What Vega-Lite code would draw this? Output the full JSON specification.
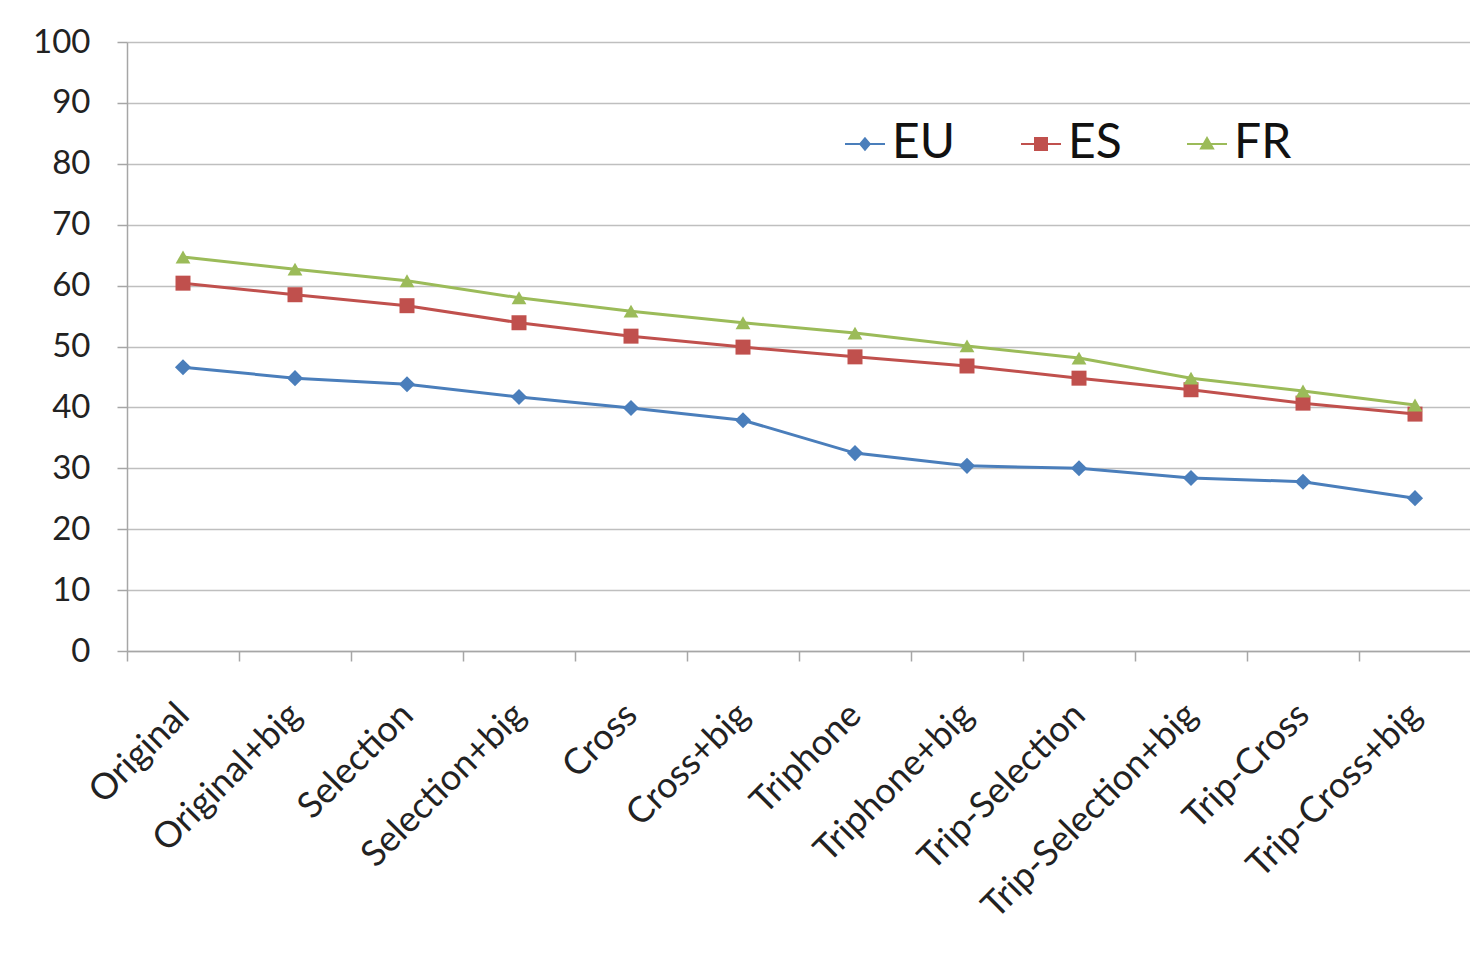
{
  "$schema": "https://vega.github.io/schema/vega-lite/v6.json",
  "width": 1344,
  "height": 609,
  "autosize": {"type": "none"},
  "padding": {"left": 127, "top": 42, "right": 0, "bottom": 317},
  "background": "#ffffff",
  "config": {
    "view": {"stroke": null},
    "font": "Lato",
    "axis": {"labelFont": "Lato", "labelColor": "#222222", "domainColor": "#a6a6a6", "tickColor": "#a6a6a6", "gridColor": "#bfbfbf", "domainWidth": 1.5, "tickWidth": 1.5, "gridWidth": 1.5}
  },
  "data": {
    "values": [
      {"method": "Original", "series": "EU", "value": 46.6},
      {"method": "Original+big", "series": "EU", "value": 44.8},
      {"method": "Selection", "series": "EU", "value": 43.8},
      {"method": "Selection+big", "series": "EU", "value": 41.7},
      {"method": "Cross", "series": "EU", "value": 39.9},
      {"method": "Cross+big", "series": "EU", "value": 37.9},
      {"method": "Triphone", "series": "EU", "value": 32.5},
      {"method": "Triphone+big", "series": "EU", "value": 30.4},
      {"method": "Trip-Selection", "series": "EU", "value": 30.0},
      {"method": "Trip-Selection+big", "series": "EU", "value": 28.4},
      {"method": "Trip-Cross", "series": "EU", "value": 27.8},
      {"method": "Trip-Cross+big", "series": "EU", "value": 25.1},
      {"method": "Original", "series": "ES", "value": 60.4},
      {"method": "Original+big", "series": "ES", "value": 58.5},
      {"method": "Selection", "series": "ES", "value": 56.7},
      {"method": "Selection+big", "series": "ES", "value": 53.9},
      {"method": "Cross", "series": "ES", "value": 51.7},
      {"method": "Cross+big", "series": "ES", "value": 49.9},
      {"method": "Triphone", "series": "ES", "value": 48.3},
      {"method": "Triphone+big", "series": "ES", "value": 46.8},
      {"method": "Trip-Selection", "series": "ES", "value": 44.8},
      {"method": "Trip-Selection+big", "series": "ES", "value": 42.9},
      {"method": "Trip-Cross", "series": "ES", "value": 40.7},
      {"method": "Trip-Cross+big", "series": "ES", "value": 38.9},
      {"method": "Original", "series": "FR", "value": 64.7},
      {"method": "Original+big", "series": "FR", "value": 62.7},
      {"method": "Selection", "series": "FR", "value": 60.8},
      {"method": "Selection+big", "series": "FR", "value": 58.0},
      {"method": "Cross", "series": "FR", "value": 55.8},
      {"method": "Cross+big", "series": "FR", "value": 53.9},
      {"method": "Triphone", "series": "FR", "value": 52.2},
      {"method": "Triphone+big", "series": "FR", "value": 50.1},
      {"method": "Trip-Selection", "series": "FR", "value": 48.1},
      {"method": "Trip-Selection+big", "series": "FR", "value": 44.8},
      {"method": "Trip-Cross", "series": "FR", "value": 42.7},
      {"method": "Trip-Cross+big", "series": "FR", "value": 40.4}
    ]
  },
  "encoding": {
    "x": {
      "field": "method", "type": "nominal", "sort": null,
      "scale": {"paddingInner": 0, "paddingOuter": 0},
      "axis": {"title": null, "labelAngle": -45, "labelAlign": "right", "labelBaseline": "middle", "labelFontSize": 36, "labelLimit": 600, "tickSize": 10, "tickBand": "extent", "labelPadding": 48, "labelOffset": 0, "grid": false}
    },
    "y": {
      "field": "value", "type": "quantitative",
      "scale": {"domain": [0, 100], "nice": false},
      "axis": {"title": null, "values": [0,10,20,30,40,50,60,70,80,90,100], "labelFontSize": 33, "tickSize": 10, "labelPadding": 27, "grid": true}
    },
    "color": {
      "field": "series", "type": "nominal", "sort": ["EU", "ES", "FR"],
      "scale": {"domain": ["EU", "ES", "FR"], "range": ["#4a7ebb", "#c0504d", "#9bbb59"]},
      "legend": {
        "title": null, "orient": "none", "legendX": 714, "legendY": 78, "direction": "horizontal",
        "labelFontSize": 48, "labelColor": "#111111", "labelFont": "Lato", "symbolSize": 1600, "labelOffset": 3, "columnPadding": 61, "padding": 0,
        "encode": {
          "symbols": {
            "update": {
              "shape": {"signal": "datum.value === 'EU' ? 'M-1,0H1M0,-0.28L0.24,0L0,0.28L-0.24,0Z' : datum.value === 'ES' ? 'M-1,0H1M-0.3,-0.3H0.3V0.3H-0.3Z' : 'M-1,0H1M0,-0.3L0.3,0.22H-0.3Z'"},
              "fill": {"signal": "datum.value === 'EU' ? '#4a7ebb' : datum.value === 'ES' ? '#c0504d' : '#9bbb59'"},
              "stroke": {"signal": "datum.value === 'EU' ? '#4a7ebb' : datum.value === 'ES' ? '#c0504d' : '#9bbb59'"},
              "strokeWidth": {"value": 2},
              "opacity": {"value": 1}
            }
          }
        }
      }
    }
  },
  "layer": [
    {"mark": {"type": "line", "strokeWidth": 3}, "encoding": {}},
    {
      "transform": [{"filter": "datum.series === 'EU'"}],
      "mark": {"type": "point", "filled": true, "opacity": 1, "shape": "diamond", "size": 260},
      "encoding": {}
    },
    {
      "transform": [{"filter": "datum.series === 'ES'"}],
      "mark": {"type": "point", "filled": true, "opacity": 1, "shape": "square", "size": 225},
      "encoding": {}
    },
    {
      "transform": [{"filter": "datum.series === 'FR'"}],
      "mark": {"type": "point", "filled": true, "opacity": 1, "shape": "triangle-up", "size": 220},
      "encoding": {}
    }
  ]
}
